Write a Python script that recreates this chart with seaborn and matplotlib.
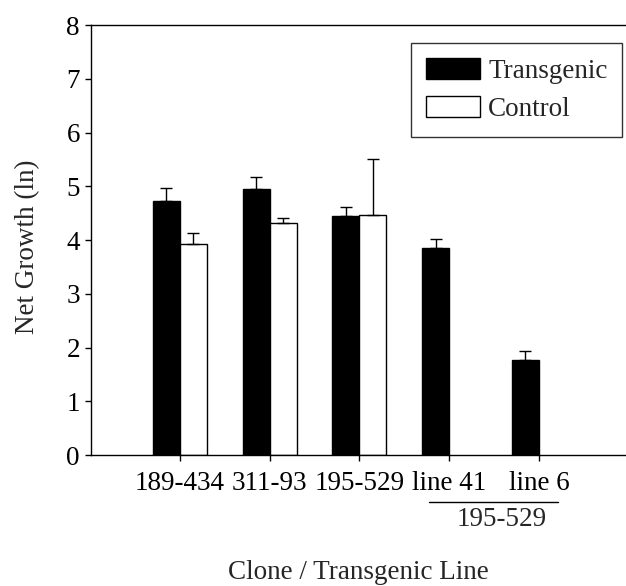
import numpy as np
import pandas as pd
import matplotlib
matplotlib.use("Agg")
import matplotlib.pyplot as plt
from matplotlib.patches import Patch
from matplotlib.lines import Line2D
import seaborn as sns

# Net growth per clone / transgenic line
clones = ["189-434", "311-93", "195-529", "line 41", "line 6"]
transgenic = [4.73, 4.94, 4.45, 3.85, 1.77]
transgenic_err = [0.24, 0.23, 0.17, 0.17, 0.16]
control = [3.92, 4.32, 4.47, np.nan, np.nan]
control_err = [0.22, 0.09, 1.04, np.nan, np.nan]
groups = ["Transgenic", "Control"]

df = pd.DataFrame({
    "clone": clones * 2,
    "group": [groups[0]] * len(clones) + [groups[1]] * len(clones),
    "growth": transgenic + control,
    "err": transgenic_err + control_err,
})

FS = 19.5

sns.set_style("ticks")
plt.rcParams["font.family"] = ["Liberation Serif", "DejaVu Serif"]
plt.rcParams["font.size"] = FS

fig = plt.figure(figsize=(6.26, 5.86), dpi=100)
ax = fig.add_axes([0.1454, 0.2235, 0.8546, 0.7338])

sns.barplot(data=df, x="clone", y="growth", hue="group", order=clones,
            hue_order=groups, palette=["black", "white"], edgecolor="black",
            linewidth=1.0, width=0.6, errorbar=None, legend=False, ax=ax)

# one-sided (upper) error bars on each drawn bar
for patch in ax.patches:
    h = patch.get_height()
    if not np.isfinite(h) or h == 0:
        continue
    xc = patch.get_x() + patch.get_width() / 2
    row = df[np.isclose(df["growth"], h)].iloc[0]
    ax.errorbar(xc, h, yerr=[[0], [row["err"]]], fmt="none", ecolor="black",
                elinewidth=1.0, capsize=4, capthick=1.0)

ax.set_xlim(-0.99, 4.97)
ax.set_ylim(0, 8)
ax.set_yticks(range(0, 9))
ax.tick_params(axis="both", direction="out", length=4.5, width=1.0,
               labelsize=FS, colors="black")
ax.tick_params(axis="x", pad=7)

for s in ["left", "top", "bottom"]:
    ax.spines[s].set_color("black")
    ax.spines[s].set_linewidth(1.0)
ax.spines["right"].set_visible(False)

ax.set_ylabel("Net Growth (ln)", fontsize=FS)
ax.yaxis.set_label_coords(-0.095, 0.484)
ax.set_xlabel("Clone / Transgenic Line", fontsize=FS)
ax.xaxis.set_label_coords(0.5, -0.243)

# bracket grouping the two transgenic lines under their parent clone
trans = ax.get_xaxis_transform()
ax.add_line(Line2D([2.78, 4.21], [-0.109, -0.109], transform=trans,
                   color="black", linewidth=1.0, clip_on=False))
ax.text(3.59, -0.149, "195-529", transform=trans, ha="center", va="center",
        fontsize=FS)

handles = [Patch(facecolor="black", edgecolor="black", label="Transgenic"),
           Patch(facecolor="white", edgecolor="black", label="Control")]
leg = ax.legend(handles=handles, loc="upper left", bbox_to_anchor=(0.598, 0.958),
                borderaxespad=0, frameon=True, fancybox=False, fontsize=FS,
                handlelength=2.0, handleheight=0.8, handletextpad=0.3,
                labelspacing=0.45, borderpad=0.55)
leg.get_frame().set_edgecolor("black")
leg.get_frame().set_linewidth(1.0)

fig.savefig("out.png", dpi=100)
